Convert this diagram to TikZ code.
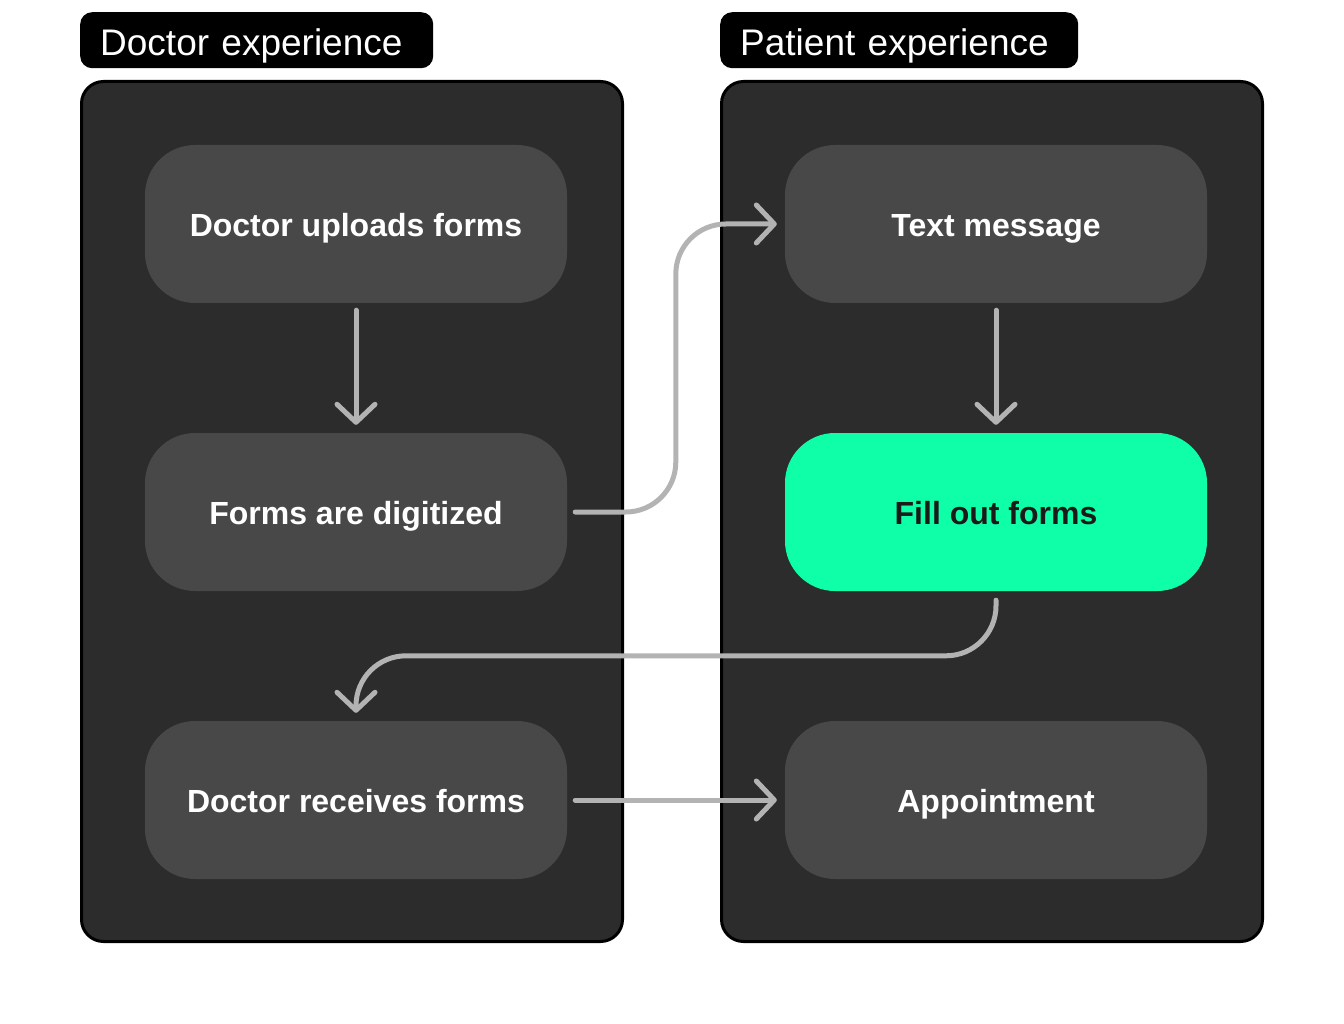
\documentclass[tikz,border=0pt]{standalone}
\usepackage{fontspec}
\setmainfont{Liberation Sans}
\usetikzlibrary{arrows.meta,calc}
\definecolor{panelc}{HTML}{2C2C2C}
\definecolor{nodec}{HTML}{484848}
\definecolor{greenc}{HTML}{0FFFA8}
\definecolor{arrowc}{HTML}{B3B3B3}
\definecolor{darktext}{HTML}{1A1A1A}
\begin{document}
\begin{tikzpicture}[x=1pt,y=-1pt,
  panel/.style={draw=black, line width=3pt, fill=panelc, rounded corners=22pt},
  hdrbox/.style={fill=black, rounded corners=12pt, text=white, minimum height=56pt,
    inner xsep=20pt, inner ysep=0pt, align=left, anchor=north west,
    text height=36pt, text depth=6pt,
    font=\fontsize{37}{44}\selectfont},
  stepbox/.style={fill=nodec, rounded corners=50pt, minimum width=422pt,
    minimum height=158pt, inner sep=0pt, text=white,
    text height=30pt, text depth=5pt,
    font=\fontsize{32}{38}\selectfont\bfseries},
  greenbox/.style={stepbox, fill=greenc, text=darktext},
  conn/.style={draw=arrowc, line width=5pt, line cap=round,
    -{Straight Barb[length=18pt,width=38pt,round]}},
]
\useasboundingbox (0,0) rectangle (1344,1024);
% panels
\draw[panel] (81.5,81.5) rectangle (622.5,941.5);
\draw[panel] (721.5,81.5) rectangle (1262.5,941.5);
% headers
\node[hdrbox, text width=313pt] (hl) at (80,12) {Doctor experience};
\node[hdrbox, text width=318pt] (hr) at (720,12) {Patient experience};
% steps
\node[stepbox] (n1) at (356,224) {Doctor uploads forms};
\node[stepbox] (n2) at (356,512) {Forms are digitized};
\node[stepbox] (n3) at (356,800) {Doctor receives forms};
\node[stepbox] (t1) at (996,224) {Text message};
\node[greenbox] (t2) at (996,512) {Fill out forms};
\node[stepbox] (t3) at (996,800) {Appointment};
% connectors
\draw[conn] ([yshift=-7pt]n1.south) -- ([yshift=8pt]n2.north);
\draw[conn] ([yshift=-7pt]t1.south) -- ([yshift=8pt]t2.north);
\draw[conn, rounded corners=50pt] ([xshift=8pt]n2.east) -| ($(t1.west)+(-109,0)$) -- ([xshift=-8pt]t1.west);
\draw[conn, rounded corners=50pt] ([yshift=-9pt]t2.south) |- ($(n3.north)+(0,-65)$) -- ([yshift=8pt]n3.north);
\draw[conn] ([xshift=8pt]n3.east) -- ([xshift=-8pt]t3.west);
\end{tikzpicture}
\end{document}
